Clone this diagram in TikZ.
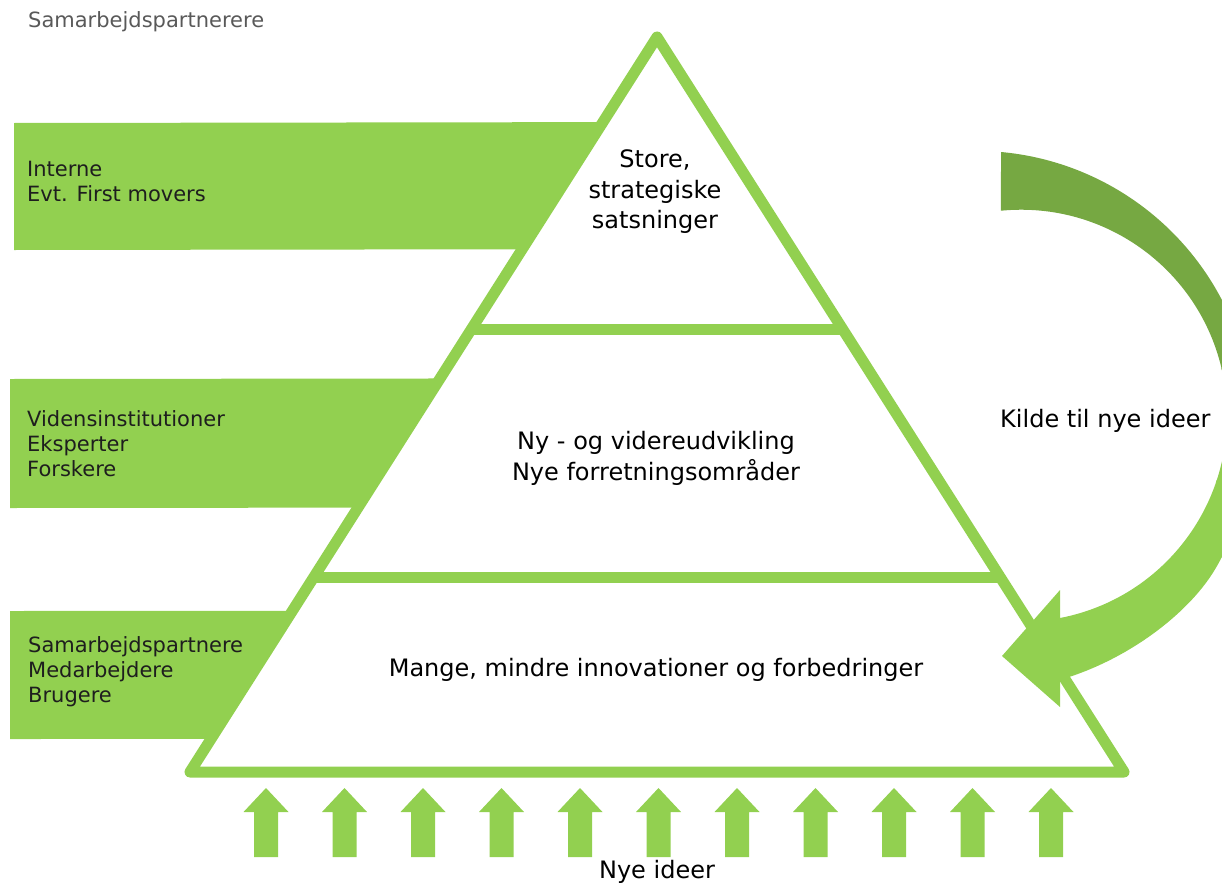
\documentclass[tikz,border=0pt]{standalone}
\usepackage{fontspec}
\setmainfont{DejaVu Sans}
\usetikzlibrary{calc}
\definecolor{lgreen}{RGB}{146,208,80}
\definecolor{dgreen}{RGB}{118,168,66}
\definecolor{labelgray}{RGB}{89,89,89}
\definecolor{bandtext}{RGB}{30,30,30}
\begin{document}
\begin{tikzpicture}[x=1pt,y=-1pt,
  band/.style={fill=lgreen},
  bandlabel/.style={anchor=west, align=left, font=\fontsize{21}{25}\selectfont, text=bandtext, inner sep=0pt},
  pyrlabel/.style={align=center, font=\fontsize{24}{30.5}\selectfont, inner sep=0pt},
  pyrline/.style={draw=lgreen, line width=11pt, line join=round},
  uparrow/.style={fill=lgreen}]
\useasboundingbox (0,0) rectangle (1222,883);
\clip (0,0) rectangle (1222,883);

% triangle corners
\coordinate (apex) at (657,37);
\coordinate (bl) at (190,772);
\coordinate (br) at (1124,772);

% left bands
\fill[band] (14,123) -- ($(apex)!0.1158!(bl)$) -- ($(apex)!0.2888!(bl)$) -- (14,250) -- cycle;
\fill[band] (10,379) -- ($(apex)!0.4646!(bl)$) -- ($(apex)!0.6403!(bl)$) -- (10,508) -- cycle;
\fill[band] (10,611) -- ($(apex)!0.7807!(bl)$) -- ($(apex)!0.9550!(bl)$) -- (10,739) -- cycle;

% pyramid
\draw[pyrline] (apex) -- (bl) -- (br) -- cycle;
\draw[pyrline] ($(apex)!0.3978!(bl)$) -- ($(apex)!0.3978!(br)$);
\draw[pyrline] ($(apex)!0.7357!(bl)$) -- ($(apex)!0.7357!(br)$);

% texts
\node[bandlabel, text=labelgray] (title) at (28,22) {Samarbejdspartnerere};
\node[bandlabel] (b1) at (27,181) {Interne\\Evt. First movers};
\node[bandlabel] (b2) at (27,444) {Vidensinstitutioner\\Eksperter\\Forskere};
\node[bandlabel] (b3) at (28,672) {Samarbejdspartnere\\Medarbejdere\\Brugere};

\node[pyrlabel] (top) at (655,192) {Store,\\strategiske\\satsninger};
\node[pyrlabel] (mid) at (656,458.5) {Ny - og videreudvikling\\Nye forretningsområder};
\node[pyrlabel] (base) at (656,670) {Mange, mindre innovationer og forbedringer};
\node[pyrlabel, anchor=west] (kilde) at (1000,421) {Kilde til nye ideer};
\node[pyrlabel] (nye) at (657,872) {Nye ideer};

% up arrows
\foreach \i in {0,...,10} {
  \pgfmathsetmacro\cx{266+78.5*\i}
  \fill[uparrow] (\cx-12,857) -- (\cx-12,812) -- (\cx-22.5,812) -- (\cx,788)
     -- (\cx+22.5,812) -- (\cx+12,812) -- (\cx+12,857) -- cycle;
}

% curved arrow
\begin{scope}
  \clip (1001,152) arc[start angle=84.8, end angle=-30, radius=277.6pt]
     .. controls (1191.4,610.6) and (1132.5,657) .. (1066,678)
     -- (1060,680) -- (1060,707) -- (1002,656) -- (1060,590) -- (1060,618)
     arc[start angle=-79.1, end angle=95.6, radius=206pt] -- cycle;
  \fill[dgreen] (990,140) rectangle (1260,370);
  \shade[top color=dgreen, bottom color=lgreen] (990,368) rectangle (1260,482);
  \fill[lgreen] (990,480) rectangle (1260,720);
\end{scope}
\end{tikzpicture}
\end{document}
